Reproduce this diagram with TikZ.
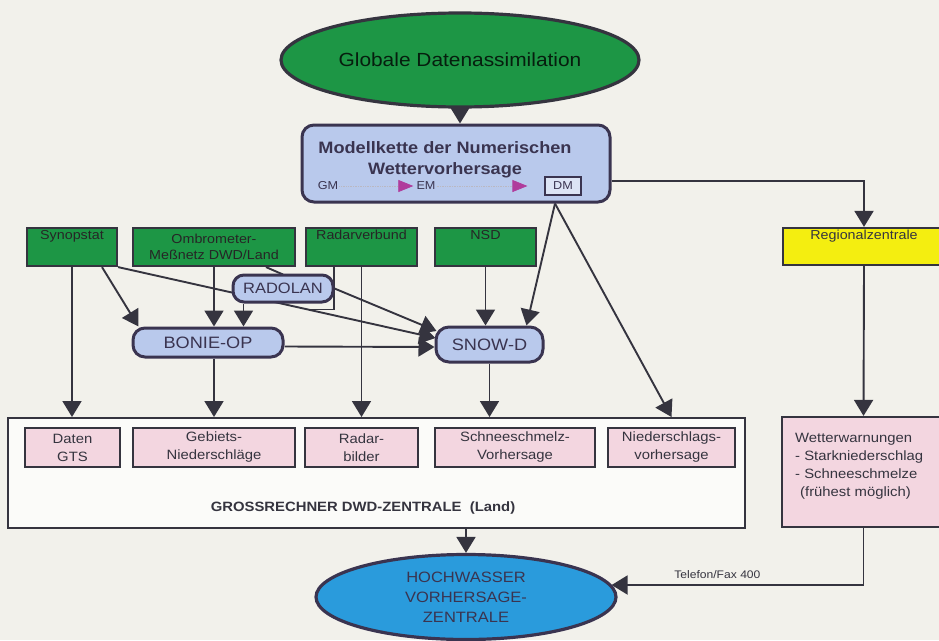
\documentclass[tikz,border=0pt]{standalone}
\usepackage{fontspec}
\setmainfont{Liberation Sans}[FakeStretch=1.1]
\usetikzlibrary{arrows.meta,calc,shapes.geometric}
\definecolor{bgc}{HTML}{F2F1EB}
\definecolor{gr}{HTML}{1D9645}
\definecolor{lb}{HTML}{B9C9EC}
\definecolor{bd}{HTML}{3A3450}
\definecolor{yl}{HTML}{F4EE10}
\definecolor{pk}{HTML}{F3D6E0}
\definecolor{bl}{HTML}{2A9BDC}
\definecolor{ln}{HTML}{35343F}
\definecolor{mg}{HTML}{B03C9C}
\pgfdeclarelayer{back}
\pgfdeclarelayer{lines}
\pgfsetlayers{back,lines,main}
\begin{document}
\begin{tikzpicture}[x=1pt,y=-1pt,
  conn/.style={draw=ln, line width=1.9pt},
  arr/.style={conn, -{Triangle[width=19pt,length=16pt]}},
  mgarr/.style={draw=bd!35, line width=0.7pt, densely dotted, -{Triangle[width=12pt,length=15pt,color=mg]}},
  gbox/.style={draw=ln, line width=2.2pt, fill=gr, minimum height=38pt, inner sep=0pt, align=center, font=\fontsize{13}{16}\selectfont, text=black!85},
  gtop/.style={anchor=north, inner sep=3pt, font=\fontsize{13}{16}\selectfont, text=black!85},
  pill/.style={draw=bd, line width=3pt, fill=lb, rounded corners=12pt, inner sep=0pt, text=bd},
  pbox/.style={draw=ln, line width=2pt, fill=pk, minimum height=39pt, inner sep=0pt, align=center, font=\fontsize{13.5}{18}\selectfont, text=ln}
]
\useasboundingbox (0,0) rectangle (939,640);
\clip (0,0) rectangle (939,640);
\begin{pgfonlayer}{back}
\fill[bgc] (0,0) rectangle (939,640);
\end{pgfonlayer}

% top
\node[ellipse, draw=ln, line width=3.2pt, fill=gr, minimum width=358pt, minimum height=94pt, inner sep=0pt,
      font=\fontsize{19}{22}\selectfont, text=black!80!gr] (glob) at (460,60) {Globale Datenassimilation};
\node[pill, minimum width=308pt, minimum height=77pt] (mk) at (456,163.5) {};
\node[font=\bfseries\fontsize{16.5}{21}\selectfont, text=bd, align=center] (mkt) at (445,160) {Modellkette der Numerischen\\Wettervorhersage};
\node[font=\fontsize{11.5}{13}\selectfont, text=bd, inner sep=1pt] (gm) at (328,186) {GM};
\node[font=\fontsize{11.5}{13}\selectfont, text=bd, inner sep=1pt] (em) at (426,186) {EM};
\node[draw=bd, line width=1.2pt, fill=lb!50!white, minimum width=36pt, minimum height=18pt, inner sep=0pt,
      font=\fontsize{11.5}{13}\selectfont, text=bd] (dm) at (563,186) {DM};
\draw[mgarr, shorten >=2pt] (gm.east) -- (em.west);
\draw[mgarr, shorten >=17pt] (em.east) -- (dm.west);

% sources
\node[gbox, minimum width=90pt, label={[gtop]north:Synopstat}] (syn) at (72,247) {};
\node[gbox, minimum width=162pt] (omb) at (214,247) {Ombrometer-\\Meßnetz DWD/Land};
\node[gbox, minimum width=111pt, label={[gtop]north:Radarverbund}] (rad) at (361.5,247) {};
\node[gbox, minimum width=101pt, label={[gtop]north:NSD}] (nsd) at (485.5,247) {};
\node[draw=ln, line width=2.2pt, fill=yl, minimum width=162pt, minimum height=37pt, inner sep=0pt,
      label={[gtop, text=ln]north:Regionalzentrale}] (reg) at (864,246.5) {};

% processing
\node[pill, minimum width=100pt, minimum height=27pt, rounded corners=11pt, font=\fontsize{15}{18}\selectfont] (radolan) at (283,288.5) {RADOLAN};
\node[pill, minimum width=150pt, minimum height=29pt, font=\fontsize{16.5}{19}\selectfont] (bonie) at (208,342.5) {BONIE-OP};
\node[pill, minimum width=107pt, minimum height=35pt, rounded corners=13pt, font=\fontsize{16.5}{19}\selectfont] (snow) at (489.5,344.5) {SNOW-D};

% Grossrechner
\node[draw=ln, line width=2pt, fill=white!70!bgc, minimum width=737pt, minimum height=110pt, inner sep=0pt] (gross) at (376.5,473) {};
\node[pbox, minimum width=95pt] (gts) at (72.5,447.5) {Daten\\GTS};
\node[pbox, minimum width=162pt] (geb) at (214,447.5) {Gebiets-\\Niederschläge};
\node[pbox, minimum width=113pt] (radb) at (361.5,447.5) {Radar-\\bilder};
\node[pbox, minimum width=160pt] (sch) at (515,447.5) {Schneeschmelz-\\Vorhersage};
\node[pbox, minimum width=127pt] (nied) at (671.5,447.5) {Niederschlags-\\vorhersage};
\node[font=\bfseries\fontsize{13.5}{16}\selectfont, text=ln] (grt) at (363,508) {GROSSRECHNER DWD-ZENTRALE\ \ (Land)};

% Wetterwarnungen
\node[draw=ln, line width=2.2pt, fill=pk, minimum width=163pt, minimum height=110pt, inner sep=0pt] (ww) at (863.5,472) {};
\node[anchor=west, align=left, inner sep=0pt, font=\fontsize{13.5}{18}\selectfont, text=ln] (wwt) at (795,466)
  {Wetterwarnungen\\- Starkniederschlag\\- Schneeschmelze\\\hspace{5pt}(frühest möglich)};

% Hochwasser
\node[ellipse, draw=bd, line width=3.2pt, fill=bl, minimum width=300pt, minimum height=85pt, inner sep=0pt, align=center,
      font=\fontsize{15}{20}\selectfont, text=bd] (hw) at (466,597) {HOCHWASSER\\VORHERSAGE-\\ZENTRALE};

\coordinate (mkout) at ($(mk.south -| dm.south)+(-8,0)$);
\coordinate (rbot) at ($(radolan.south west)+(12,0)$);
\coordinate (radx) at ($(rad.south west)+(29,0)$);
\coordinate (radin) at ($(radolan.south)+(25,6)$);
\coordinate (ombx) at ($(omb.south)+(52,0)$);

\begin{pgfonlayer}{lines}
\draw[arr] (glob.south) -- (glob.south |- mk.north);
% Synopstat
\draw[arr] (syn.south) -- (syn.south |- gross.north);
\draw[arr] ($(syn.south)+(30,0)$) -- ($(bonie.north west)+(7,0)$);
\draw[arr] (syn.south east) -- ($(snow.west)+(1,-6.5)$);
% Ombrometer
\draw[arr] (omb.south) -- (omb.south |- bonie.north);
\draw[conn] (ombx) -- ($(radolan.north)+(0,1)$);
\draw[arr] (omb.south |- bonie.south) -- (omb.south |- gross.north);
% Radar
\draw[conn] (radx) |- (radin);
\draw[arr] (rad.south) -- (rad.south |- gross.north);
% RADOLAN
\draw[arr] (rbot) -- (rbot |- bonie.north);
\draw[arr] (radolan.east) -- ($(snow.west)+(2,-13.5)$);
% BONIE -> SNOW
\draw[arr] ($(bonie.east)+(0,4)$) -- ($(snow.west)+(0,2.5)$);
% NSD
\draw[arr] (nsd.south) -- (nsd.south |- snow.north);
% Modellkette
\draw[arr] (mkout) -- ($(snow.north east)+(-18,0)$);
\draw[arr] (mkout) -- (nied.north |- gross.north);
\draw[arr] ($(mk.east)+(0,17.5)$) -| (reg.north);
% SNOW -> Schneeschmelz
\draw[arr] (snow.south) -- (snow.south |- gross.north);
% right column
\draw[arr] (reg.south) -- (ww.north);
\draw[arr] (ww.south) |- node[pos=0.79, above=2pt, font=\fontsize{11}{13}\selectfont, text=ln] (tel) {Telefon/Fax 400} ($(hw.east)+(-6,-12)$);
% Grossrechner -> Hochwasser
\draw[arr] (hw.north |- gross.south) -- (hw.north);
\end{pgfonlayer}
\end{tikzpicture}
\end{document}
